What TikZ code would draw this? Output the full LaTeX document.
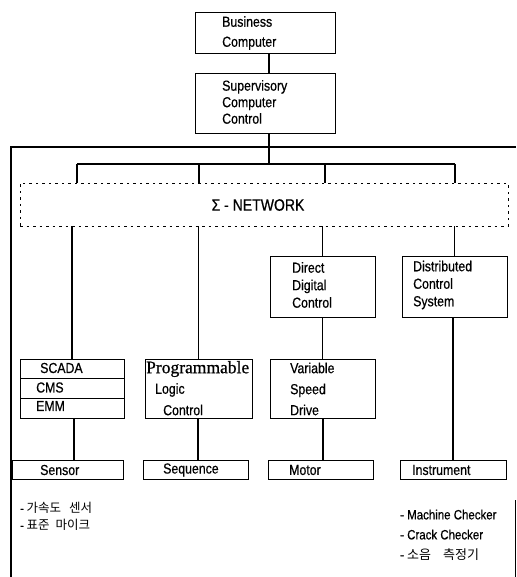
\documentclass[tikz,border=0pt]{standalone}
\usepackage{fontspec}
\setmainfont{Liberation Sans}[FakeStretch=0.85,FakeBold=0.6]
\newfontfamily\serifprog{Liberation Serif}[FakeBold=0.8]
\newfontfamily\kofont{Noto Sans CJK KR}
\begin{document}
\begin{tikzpicture}[x=1pt,y=-1pt,
  box/.style={draw, line width=0.9pt, inner sep=0pt},
  lbl/.style={anchor=west, align=left, inner sep=0pt, font=\fontsize{14.5}{17}\selectfont},
  wire/.style={line width=1.3pt},
  netbox/.style={draw, dashed, dash pattern=on 2.5pt off 4pt, line width=0.8pt, inner sep=0pt}]
\useasboundingbox (0,0) rectangle (516,577);
% outer frame
\draw[line width=1.1pt] (11,577) -- (11,147) -- (516,147);
\draw[line width=0.8pt] (515,500) -- (515,577);
% top boxes
\node[box, minimum width=140, minimum height=41] (bc) at (265,32.5) {};
\node[lbl, font=\fontsize{14.5}{20}\selectfont] (bct) at (222,33) {Business\\Computer};
\node[box, minimum width=140, minimum height=60] (scc) at (265,103) {};
\node[lbl, font=\fontsize{14.5}{16.5}\selectfont] (scct) at (222,102) {Supervisory\\Computer\\Control};
% network
\node[netbox, minimum width=488, minimum height=43] (net) at (264,204.5) {};
\node[inner sep=0pt, font=\fontsize{16.5}{18}\selectfont] (nett) at (258,205) {Σ - NETWORK};
% bus
\coordinate (bus) at (269,164);
\coordinate (b1) at (77,164);
\coordinate (b4) at (455,164);
\draw[wire] (scc.south -| bus) -- (bus);
\draw[wire] (bc.south -| bus) -- (scc.north -| bus);
\draw[wire] (b1) -- (b4);
\foreach \x in {77,199,325,455} \draw[wire] (\x,164) -- (\x,183);
% middle boxes
\node[box, minimum width=105, minimum height=61] (ddc) at (322.5,286.5) {};
\node[lbl, font=\fontsize{14.5}{17.5}\selectfont] (ddct) at (292,285) {Direct\\Digital\\Control};
\node[box, minimum width=105, minimum height=61] (dcs) at (454.5,286.5) {};
\node[lbl, font=\fontsize{14.5}{17.5}\selectfont] (dcst) at (413,285) {Distributed\\Control\\System};
% lower boxes
\node[box, minimum width=104, minimum height=59] (sca) at (72,388.5) {};
\draw[line width=0.9pt] (20,378) -- (124,378) (20,398) -- (124,398);
\node[lbl] (scat1) at (40,368) {SCADA};
\node[lbl] (scat2) at (36,387.5) {CMS};
\node[lbl] (scat3) at (36,406) {EMM};
\node[box, minimum width=107, minimum height=59] (plc) at (198.5,388.5) {};
\node[lbl, font=\serifprog\fontsize{17.5}{19}\selectfont] (plct1) at (146,369) {Programmable};
\node[lbl] (plct2) at (155,390) {Logic};
\node[lbl] (plct3) at (163,410) {Control};
\node[box, minimum width=105, minimum height=59] (vsd) at (322.5,388.5) {};
\node[lbl, font=\fontsize{14.5}{21}\selectfont] (vsdt) at (290,389) {Variable\\Speed\\Drive};
% network drops
\draw[wire] (net.south -| sca) -- (sca.north);
\draw[wire] (net.south -| plc) -- (plc.north);
\draw[wire] (net.south -| ddc) -- (ddc.north);
\draw[wire] (net.south -| dcs) -- (dcs.north);
\draw[wire] (ddc.south) -- (vsd.north);
% bottom boxes
\node[box, minimum width=111, minimum height=19] (sen) at (67.5,469.5) {};
\node[lbl] (sent) at (40,470) {Sensor};
\node[box, minimum width=105, minimum height=19] (seq) at (195.5,469.5) {};
\node[lbl] (seqt) at (163,470) {Sequence};
\node[box, minimum width=105, minimum height=19] (mot) at (320.5,469.5) {};
\node[lbl] (mott) at (289,470) {Motor};
\node[box, minimum width=106, minimum height=19] (ins) at (453,469.5) {};
\node[lbl] (inst) at (412,470) {Instrument};
\draw[wire] (sca.south -| 74,0) -- (sen.north -| 74,0);
\draw[wire] (plc.south -| 198,0) -- (seq.north -| 198,0);
\draw[wire] (vsd.south -| 323,0) -- (mot.north -| 323,0);
\draw[wire] (dcs.south -| 453,0) -- (ins.north -| 453,0);
% notes
\node[lbl, font=\fontsize{12.5}{17}\selectfont] (kl) at (20,516.5) {- {\kofont\fontsize{12.5}{17}\selectfont 가속도\hspace{8pt}센서}\\- {\kofont\fontsize{12.5}{17}\selectfont 표준\hspace{6pt}마이크}};
\node[lbl, font=\fontsize{13.5}{20}\selectfont] (kr) at (400,535) {- Machine Checker\\- Crack Checker\\- {\kofont\fontsize{13}{20}\selectfont 소음\hspace{12pt}측정기}};
\end{tikzpicture}
\end{document}
